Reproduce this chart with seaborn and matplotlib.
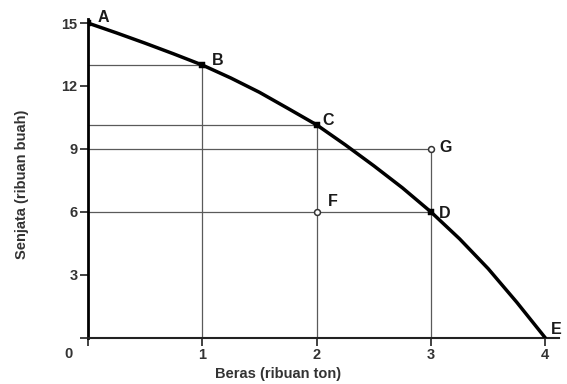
import matplotlib
matplotlib.use("Agg")
import matplotlib.pyplot as plt
import seaborn as sns
import pandas as pd

# curve (ribuan ton, ribuan buah)
curve_x = [0, 0.25, 0.5, 0.75, 1, 1.25, 1.5, 1.75, 2, 2.25, 2.5, 2.75, 3, 3.25, 3.5, 3.75, 4]
curve_y = [15, 14.53, 14.04, 13.53, 13.0, 12.38, 11.7, 10.93, 10.15, 9.2, 8.2, 7.15, 6.0, 4.72, 3.3, 1.7, 0]

on_names = ["A", "B", "C", "D", "E"]
on_x = [0, 1, 2, 3, 4]
on_y = [15, 13, 10.15, 6, 0]

off_names = ["F", "G"]
off_x = [2, 3]
off_y = [6, 9]

xticks = [0, 1, 2, 3, 4]
yticks = [0, 3, 6, 9, 12, 15]

# label offsets (points) for each letter
label_off = {"A": (7, 1), "B": (7, 0), "C": (4, 0), "D": (6, -4),
             "E": (4, 3), "F": (8, 4), "G": (6, -2)}

sns.set_style("white")
plt.rcParams["font.family"] = ["Liberation Sans", "DejaVu Sans"]

fig = plt.figure(figsize=(5.67, 3.84), dpi=100)
ax = fig.add_axes([0.155, 0.12, 0.831, 0.831])

guide = dict(color="#5a5a5a", lw=0.9, zorder=1)
# horizontal guides from the y axis
ax.plot([0, on_x[1]], [on_y[1]] * 2, **guide)
ax.plot([0, on_x[2]], [on_y[2]] * 2, **guide)
ax.plot([0, off_x[1]], [off_y[1]] * 2, **guide)
ax.plot([0, on_x[3]], [on_y[3]] * 2, **guide)
# vertical guides from the x axis
ax.plot([on_x[1]] * 2, [0, on_y[1]], **guide)
ax.plot([on_x[2]] * 2, [0, on_y[2]], **guide)
ax.plot([off_x[1]] * 2, [0, off_y[1]], **guide)

df = pd.DataFrame({"x": curve_x, "y": curve_y})
sns.lineplot(data=df, x="x", y="y", ax=ax, color="black", lw=2.5, zorder=3, sort=False)

sns.scatterplot(x=on_x[:4], y=on_y[:4], ax=ax, color="black", marker="s", s=16,
                edgecolor="black", zorder=4)
ax.scatter(off_x, off_y, s=18, facecolor="white", edgecolor="#333333", lw=1.1, zorder=4)

lab = dict(fontsize=11.5, fontweight="bold", color="#1a1a1a")
for n, x, y in zip(on_names + off_names, on_x + off_x, on_y + off_y):
    ax.annotate(n, (x, y), xytext=label_off[n], textcoords="offset points", **lab)

ax.set_xlim(0, 4.12)
ax.set_ylim(0, 15.2)
ax.set_xticks(xticks)
ax.set_xticklabels([""] + [str(t) for t in xticks[1:]])
ax.set_yticks(yticks)
ax.set_yticklabels([""] + [str(t) for t in yticks[1:]])
ax.tick_params(axis="both", direction="out", length=5.5, width=1.3, color="#333333",
               labelsize=10.5, labelcolor="#333333", pad=2, left=True, bottom=True)
for t in ax.get_xticklabels() + ax.get_yticklabels():
    t.set_fontweight("bold")
ax.text(-0.13, -0.75, "0", ha="right", va="center", fontsize=10.5, fontweight="bold",
        color="#333333", clip_on=False)

for s in ["top", "right"]:
    ax.spines[s].set_visible(False)
ax.spines["left"].set_linewidth(2.0)
ax.spines["left"].set_color("black")
ax.spines["bottom"].set_linewidth(1.5)
ax.spines["bottom"].set_color("#222222")

ax.set_xlabel("Beras (ribuan ton)", fontsize=10.5, fontweight="bold", color="#333333")
ax.set_ylabel("Senjata (ribuan buah)", fontsize=10.5, fontweight="bold", color="#333333")
ax.xaxis.set_label_coords(0.403, -0.09)
ax.yaxis.set_label_coords(-0.124, 0.48)

fig.savefig("out.png", dpi=100)
